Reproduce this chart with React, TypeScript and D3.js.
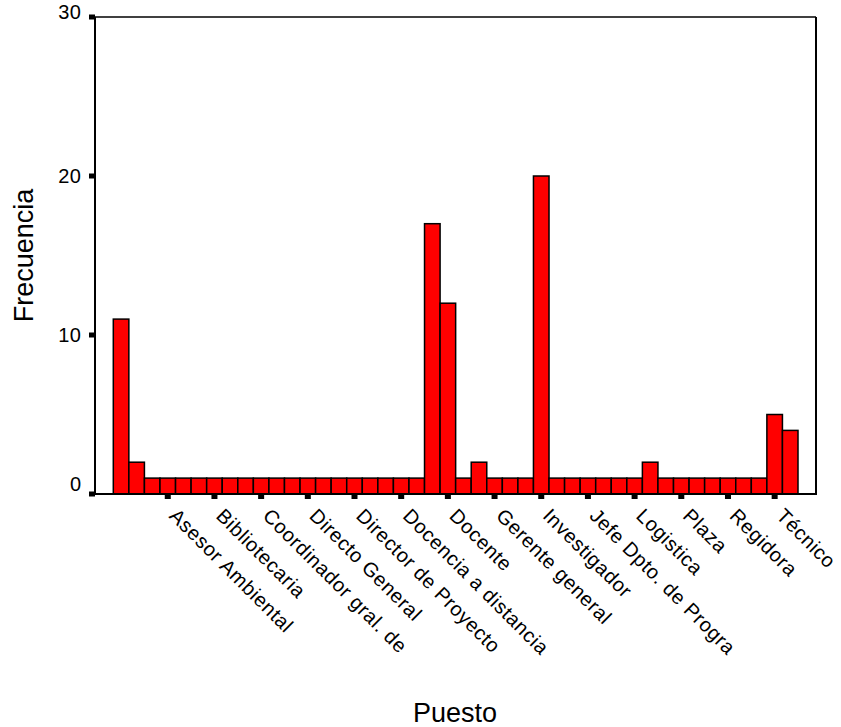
import React from "react";
import * as d3 from "d3";

const values: number[] = [
  11, 2, 1, 1, 1, 1, 1, 1, 1, 1, 1, 1, 1, 1, 1, 1, 1, 1, 1, 1,
  17, 12, 1, 2, 1, 1, 1, 20, 1, 1, 1, 1, 1, 1, 2, 1, 1, 1, 1, 1, 1, 1, 5, 4,
];

const tickLabels: string[] = [
  "Asesor Ambiental",
  "Bibliotecaria",
  "Coordinador gral. de",
  "Directo General",
  "Director de Proyecto",
  "Docencia a distancia",
  "Docente",
  "Gerente general",
  "Investigador",
  "Jefe Dpto. de Progra",
  "Logistica",
  "Plaza",
  "Regidora",
  "Técnico",
];

const yTicks: number[] = [0, 10, 20, 30];
const xTitle = "Puesto";
const yTitle = "Frecuencia";

const W = 841;
const H = 727;
const frame = { left: 95, right: 816, top: 17, bottom: 494 };
const FONT = "'Liberation Sans', Arial, Helvetica, sans-serif";

export default function App() {
  const idx = values.map((_, i) => i);
  const x = d3
    .scaleBand<number>()
    .domain(idx)
    .range([113.3, 798])
    .padding(0);
  const y = d3.scaleLinear().domain([0, 30]).range([frame.bottom, frame.top]);
  const bw = x.bandwidth();

  const labelIdx = tickLabels.map((_, i) => 3 * (i + 1));

  return (
    <svg
      width={W}
      height={H}
      style={{ position: "absolute", left: 0, top: 0, background: "#fff" }}
      fontFamily={FONT}
    >
      <rect x={0} y={0} width={W} height={H} fill="#fff" />
      {/* frame */}
      <line x1={frame.left} x2={frame.right} y1={frame.top} y2={frame.top} stroke="#000" strokeWidth={1.5} />
      <line x1={frame.right} x2={frame.right} y1={frame.top} y2={frame.bottom} stroke="#000" strokeWidth={2} />

      {/* bars */}
      {values.map((v, i) => (
        <rect
          key={i}
          x={x(i)!}
          y={y(v)}
          width={bw}
          height={y(0) - y(v)}
          fill="#ff0000"
          stroke="#000"
          strokeWidth={1.5}
        />
      ))}

      {/* axes */}
      <line x1={frame.left} x2={frame.left} y1={frame.top} y2={frame.bottom + 1} stroke="#000" strokeWidth={2} />
      <line x1={frame.left} x2={frame.right + 1} y1={frame.bottom} y2={frame.bottom} stroke="#000" strokeWidth={2} />

      {/* y ticks */}
      {yTicks.map((t) => {
        const dy = t === 0 ? -10 : t === 30 ? -5 : 0;
        return (
          <g key={t}>
            <rect x={frame.left - 6} y={y(t) - 2.5} width={6} height={5} fill="#000" />
            <text
              x={81.5}
              y={y(t) + dy}
              textAnchor="end"
              dominantBaseline="central"
              fontSize={20}
              letterSpacing={0.5}
              fill="#000"
            >
              {t}
            </text>
          </g>
        );
      })}

      {/* x ticks and labels */}
      {labelIdx.map((ci, i) => {
        const cx = x(ci)! + bw / 2;
        return (
          <g key={ci}>
            <rect x={cx - 3} y={frame.bottom + 1} width={6} height={4} fill="#000" />
            <text
              transform={`translate(${cx + 0.5},${517}) rotate(45)`}
              textAnchor="start"
              fontSize={20}
              letterSpacing={0.6}
              fill="#000"
            >
              {tickLabels[i]}
            </text>
          </g>
        );
      })}

      {/* titles */}
      <text x={455} y={722} textAnchor="middle" fontSize={27} fill="#000">
        {xTitle}
      </text>
      <text
        transform={`translate(33,${255.5}) rotate(-90)`}
        textAnchor="middle"
        fontSize={27}
        fill="#000"
      >
        {yTitle}
      </text>
    </svg>
  );
}
